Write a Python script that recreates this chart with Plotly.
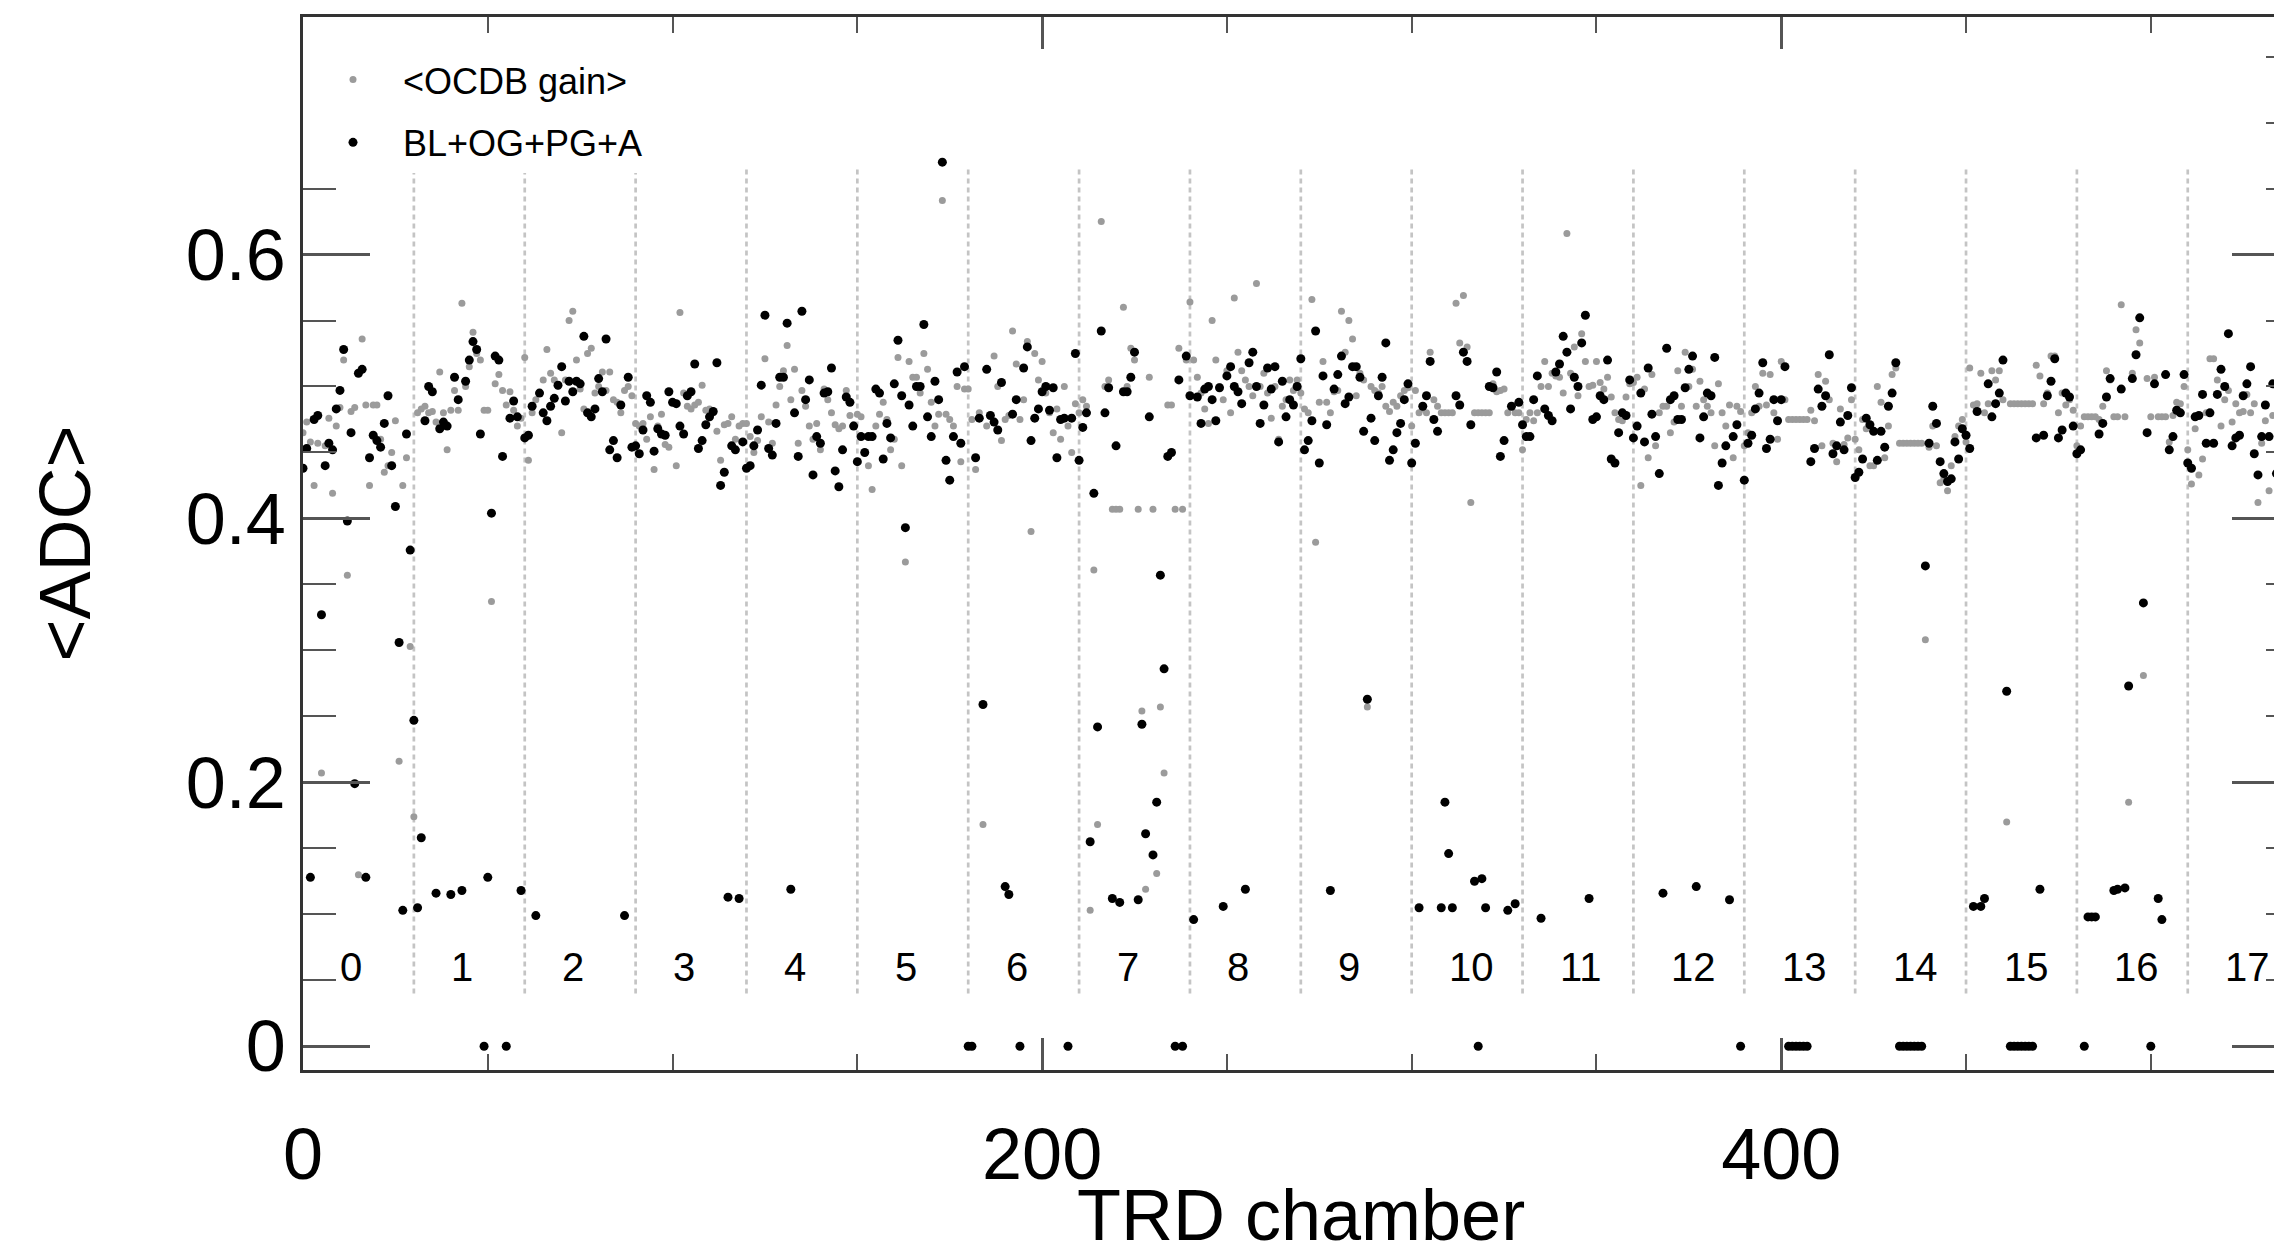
import numpy as np
import plotly.graph_objects as go

# <ADC> per TRD chamber (18 supermodules x 30 chambers)
bl_og_pg_a = [
    # SM 0
    0.438, 0.453, 0.128, 0.475, 0.478, 0.327, 0.440, 0.457, 0.452, 0.483,
    0.497, 0.528, 0.398, 0.465, 0.199, 0.510, 0.513, 0.128, 0.446, 0.463,
    0.459, 0.454, 0.472, 0.493, 0.440, 0.409, 0.306, 0.103, 0.464, 0.376,
    # SM 1
    0.247, 0.105, 0.158, 0.474, 0.500, 0.496, 0.116, 0.468, 0.473, 0.470,
    0.115, 0.507, 0.490, 0.118, 0.504, 0.520, 0.534, 0.528, 0.464, 0.0,
    0.128, 0.404, 0.523, 0.520, 0.447, 0.0, 0.476, 0.489, 0.477, 0.118,
    # SM 2
    0.461, 0.463, 0.485, 0.099, 0.495, 0.480, 0.474, 0.485, 0.491, 0.501,
    0.515, 0.489, 0.504, 0.496, 0.504, 0.502, 0.538, 0.480, 0.477, 0.483,
    0.506, 0.496, 0.536, 0.452, 0.459, 0.446, 0.486, 0.099, 0.507, 0.454,
    # SM 3
    0.455, 0.449, 0.467, 0.493, 0.488, 0.451, 0.468, 0.464, 0.463, 0.496,
    0.488, 0.487, 0.470, 0.464, 0.493, 0.496, 0.517, 0.453, 0.459, 0.471,
    0.477, 0.481, 0.518, 0.425, 0.435, 0.113, 0.455, 0.452, 0.112, 0.458,
    # SM 4
    0.438, 0.440, 0.455, 0.467, 0.501, 0.554, 0.453, 0.448, 0.472, 0.507,
    0.507, 0.548, 0.119, 0.480, 0.447, 0.557, 0.490, 0.505, 0.433, 0.462,
    0.457, 0.495, 0.496, 0.514, 0.436, 0.424, 0.452, 0.492, 0.488, 0.470,
    # SM 5
    0.443, 0.462, 0.450, 0.462, 0.462, 0.498, 0.495, 0.445, 0.472, 0.461,
    0.502, 0.535, 0.493, 0.393, 0.486, 0.470, 0.500, 0.500, 0.547, 0.477,
    0.462, 0.504, 0.490, 0.670, 0.444, 0.429, 0.462, 0.511, 0.457, 0.515,
    # SM 6
    0.0, 0.0, 0.446, 0.476, 0.259, 0.513, 0.478, 0.473, 0.467, 0.503,
    0.121, 0.115, 0.479, 0.490, 0.0, 0.514, 0.530, 0.459, 0.476, 0.483,
    0.496, 0.500, 0.482, 0.499, 0.446, 0.475, 0.476, 0.0, 0.476, 0.525,
    # SM 7
    0.444, 0.469, 0.480, 0.155, 0.419, 0.242, 0.542, 0.480, 0.499, 0.112,
    0.455, 0.109, 0.496, 0.496, 0.507, 0.526, 0.111, 0.244, 0.161, 0.477,
    0.145, 0.185, 0.357, 0.286, 0.447, 0.450, 0.0, 0.505, 0.0, 0.523,
    # SM 8
    0.493, 0.096, 0.492, 0.472, 0.498, 0.500, 0.490, 0.474, 0.499, 0.106,
    0.508, 0.515, 0.500, 0.496, 0.487, 0.119, 0.518, 0.526, 0.500, 0.472,
    0.486, 0.514, 0.498, 0.515, 0.458, 0.504, 0.477, 0.490, 0.486, 0.500,
    # SM 9
    0.521, 0.452, 0.459, 0.474, 0.542, 0.442, 0.508, 0.471, 0.118, 0.498,
    0.509, 0.523, 0.487, 0.492, 0.515, 0.515, 0.507, 0.466, 0.263, 0.476,
    0.459, 0.493, 0.507, 0.533, 0.444, 0.452, 0.465, 0.472, 0.490, 0.502,
    # SM 10
    0.442, 0.457, 0.105, 0.485, 0.493, 0.519, 0.475, 0.466, 0.105, 0.185,
    0.146, 0.105, 0.493, 0.486, 0.526, 0.519, 0.471, 0.125, 0.0, 0.127,
    0.105, 0.500, 0.499, 0.511, 0.447, 0.459, 0.103, 0.485, 0.108, 0.488,
    # SM 11
    0.471, 0.462, 0.462, 0.490, 0.508, 0.097, 0.483, 0.478, 0.474, 0.511,
    0.517, 0.538, 0.526, 0.483, 0.507, 0.500, 0.533, 0.554, 0.112, 0.475,
    0.477, 0.493, 0.490, 0.520, 0.445, 0.442, 0.465, 0.480, 0.478, 0.505,
    # SM 12
    0.461, 0.470, 0.495, 0.458, 0.514, 0.479, 0.462, 0.434, 0.116, 0.529,
    0.490, 0.493, 0.475, 0.475, 0.499, 0.513, 0.523, 0.121, 0.461, 0.477,
    0.495, 0.493, 0.522, 0.425, 0.442, 0.455, 0.111, 0.462, 0.471, 0.0,
    # SM 13
    0.429, 0.457, 0.463, 0.483, 0.495, 0.518, 0.453, 0.460, 0.490, 0.474,
    0.490, 0.515, 0.0, 0.0, 0.0, 0.0, 0.0, 0.0, 0.443, 0.453,
    0.498, 0.485, 0.493, 0.524, 0.449, 0.455, 0.473, 0.452, 0.478, 0.499,
    # SM 14
    0.431, 0.435, 0.445, 0.476, 0.471, 0.466, 0.444, 0.466, 0.454, 0.485,
    0.495, 0.518, 0.0, 0.0, 0.0, 0.0, 0.0, 0.0, 0.0, 0.364,
    0.457, 0.485, 0.472, 0.443, 0.434, 0.428, 0.430, 0.458, 0.445, 0.468,
    # SM 15
    0.463, 0.453, 0.106, 0.481, 0.106, 0.112, 0.502, 0.477, 0.487, 0.495,
    0.520, 0.269, 0.0, 0.0, 0.0, 0.0, 0.0, 0.0, 0.0, 0.461,
    0.119, 0.463, 0.493, 0.504, 0.521, 0.461, 0.467, 0.495, 0.492, 0.470,
    # SM 16
    0.449, 0.452, 0.0, 0.098, 0.098, 0.098, 0.464, 0.472, 0.492, 0.506,
    0.118, 0.119, 0.498, 0.120, 0.273, 0.506, 0.524, 0.552, 0.336, 0.465,
    0.0, 0.502, 0.112, 0.096, 0.509, 0.452, 0.462, 0.482, 0.480, 0.509,
    # SM 17
    0.442, 0.438, 0.477, 0.478, 0.494, 0.457, 0.480, 0.457, 0.494, 0.513,
    0.500, 0.540, 0.455, 0.461, 0.463, 0.493, 0.502, 0.515, 0.449, 0.433,
    0.462, 0.486, 0.462, 0.502, 0.434, 0.367, 0.465, 0.470, 0.480, 0.475,
]

ocdb_gain = [
    # SM 0
    0.465, 0.473, 0.458, 0.425, 0.457, 0.207, 0.455, 0.476, 0.419, 0.470,
    0.484, 0.520, 0.357, 0.481, 0.484, 0.130, 0.536, 0.486, 0.425, 0.486,
    0.486, 0.460, 0.435, 0.440, 0.450, 0.474, 0.216, 0.425, 0.446, 0.303,
    # SM 1
    0.174, 0.480, 0.483, 0.485, 0.480, 0.481, 0.473, 0.511, 0.480, 0.452,
    0.482, 0.497, 0.482, 0.563, 0.500, 0.515, 0.541, 0.525, 0.520, 0.482,
    0.482, 0.337, 0.502, 0.509, 0.497, 0.486, 0.496, 0.482, 0.470, 0.476,
    # SM 2
    0.522, 0.444, 0.480, 0.490, 0.495, 0.505, 0.528, 0.510, 0.505, 0.500,
    0.465, 0.505, 0.550, 0.557, 0.520, 0.498, 0.483, 0.525, 0.529, 0.495,
    0.500, 0.511, 0.497, 0.511, 0.490, 0.488, 0.480, 0.497, 0.500, 0.493,
    # SM 3
    0.472, 0.470, 0.472, 0.460, 0.477, 0.437, 0.470, 0.479, 0.456, 0.454,
    0.488, 0.440, 0.556, 0.495, 0.485, 0.483, 0.486, 0.488, 0.501, 0.482,
    0.483, 0.480, 0.466, 0.444, 0.471, 0.472, 0.477, 0.460, 0.470, 0.472,
    # SM 4
    0.472, 0.462, 0.450, 0.459, 0.477, 0.521, 0.473, 0.457, 0.486, 0.500,
    0.512, 0.531, 0.490, 0.513, 0.457, 0.497, 0.485, 0.470, 0.460, 0.472,
    0.452, 0.498, 0.490, 0.480, 0.471, 0.468, 0.470, 0.497, 0.478, 0.471,
    # SM 5
    0.479, 0.477, 0.462, 0.440, 0.422, 0.470, 0.479, 0.488, 0.475, 0.452,
    0.460, 0.522, 0.440, 0.367, 0.519, 0.507, 0.507, 0.495, 0.525, 0.513,
    0.488, 0.470, 0.479, 0.641, 0.479, 0.475, 0.470, 0.500, 0.443, 0.498,
    # SM 6
    0.498, 0.475, 0.437, 0.480, 0.168, 0.470, 0.478, 0.523, 0.500, 0.459,
    0.475, 0.478, 0.542, 0.517, 0.475, 0.490, 0.534, 0.390, 0.525, 0.505,
    0.519, 0.495, 0.480, 0.465, 0.483, 0.460, 0.500, 0.470, 0.450, 0.487,
    # SM 7
    0.480, 0.490, 0.485, 0.103, 0.361, 0.168, 0.625, 0.500, 0.505, 0.407,
    0.407, 0.407, 0.560, 0.500, 0.529, 0.520, 0.407, 0.254, 0.119, 0.507,
    0.407, 0.131, 0.257, 0.207, 0.486, 0.486, 0.407, 0.529, 0.407, 0.520,
    # SM 8
    0.564, 0.520, 0.507, 0.495, 0.483, 0.472, 0.550, 0.520, 0.500, 0.490,
    0.512, 0.480, 0.567, 0.526, 0.512, 0.505, 0.500, 0.493, 0.578, 0.500,
    0.510, 0.495, 0.476, 0.500, 0.460, 0.485, 0.490, 0.505, 0.497, 0.505,
    # SM 9
    0.495, 0.483, 0.480, 0.566, 0.382, 0.488, 0.519, 0.488, 0.480, 0.496,
    0.497, 0.557, 0.526, 0.550, 0.536, 0.493, 0.510, 0.505, 0.257, 0.500,
    0.497, 0.495, 0.500, 0.485, 0.481, 0.488, 0.485, 0.493, 0.497, 0.499,
    # SM 10
    0.470, 0.497, 0.480, 0.483, 0.480, 0.526, 0.490, 0.485, 0.480, 0.480,
    0.480, 0.480, 0.563, 0.533, 0.569, 0.530, 0.412, 0.480, 0.480, 0.480,
    0.480, 0.480, 0.502, 0.496, 0.497, 0.498, 0.480, 0.485, 0.480, 0.480,
    # SM 11
    0.452, 0.475, 0.480, 0.474, 0.480, 0.500, 0.519, 0.500, 0.510, 0.508,
    0.507, 0.495, 0.616, 0.510, 0.530, 0.493, 0.540, 0.519, 0.500, 0.501,
    0.519, 0.503, 0.498, 0.507, 0.492, 0.480, 0.475, 0.474, 0.492, 0.502,
    # SM 12
    0.503, 0.507, 0.425, 0.498, 0.446, 0.509, 0.455, 0.480, 0.485, 0.485,
    0.465, 0.473, 0.512, 0.485, 0.526, 0.500, 0.513, 0.485, 0.504, 0.490,
    0.485, 0.480, 0.455, 0.502, 0.480, 0.470, 0.486, 0.446, 0.485, 0.481,
    # SM 13
    0.455, 0.465, 0.480, 0.500, 0.485, 0.510, 0.486, 0.509, 0.480, 0.460,
    0.519, 0.490, 0.475, 0.475, 0.475, 0.475, 0.475, 0.475, 0.482, 0.474,
    0.509, 0.455, 0.504, 0.490, 0.457, 0.443, 0.483, 0.456, 0.461, 0.490,
    # SM 14
    0.460, 0.452, 0.475, 0.468, 0.440, 0.440, 0.500, 0.488, 0.446, 0.470,
    0.509, 0.514, 0.457, 0.457, 0.457, 0.457, 0.457, 0.457, 0.457, 0.308,
    0.454, 0.470, 0.455, 0.427, 0.430, 0.421, 0.440, 0.462, 0.470, 0.475,
    # SM 15
    0.458, 0.514, 0.486, 0.487, 0.510, 0.480, 0.487, 0.512, 0.505, 0.512,
    0.490, 0.170, 0.487, 0.487, 0.487, 0.487, 0.487, 0.487, 0.487, 0.516,
    0.508, 0.487, 0.495, 0.523, 0.523, 0.480, 0.495, 0.486, 0.490, 0.482,
    # SM 16
    0.455, 0.470, 0.477, 0.477, 0.477, 0.477, 0.475, 0.485, 0.512, 0.505,
    0.477, 0.477, 0.562, 0.477, 0.185, 0.510, 0.543, 0.533, 0.281, 0.506,
    0.477, 0.507, 0.477, 0.477, 0.477, 0.458, 0.478, 0.488, 0.487, 0.500,
    # SM 17
    0.452, 0.426, 0.468, 0.433, 0.445, 0.480, 0.521, 0.521, 0.505, 0.470,
    0.490, 0.497, 0.473, 0.487, 0.480, 0.481, 0.494, 0.480, 0.487, 0.412,
    0.457, 0.474, 0.421, 0.478, 0.478, 0.317, 0.470, 0.475, 0.478, 0.472,
]

sm_labels = [str(i) for i in range(18)]
chambers_per_sm = 30
n_chambers = 540

chamber = np.arange(len(bl_og_pg_a))
FONT = "Liberation Sans, Arial, Helvetica, sans-serif"
YRANGE = [-0.018, 0.780]

fig = go.Figure()

fig.add_trace(go.Scatter(
    x=chamber, y=ocdb_gain, mode="markers", name="&lt;OCDB gain&gt;",
    marker=dict(size=7, color="#9b9b9b"), legendgroup="ocdb",
))
fig.add_trace(go.Scatter(
    x=chamber, y=bl_og_pg_a, mode="markers", name="BL+OG+PG+A",
    marker=dict(size=9, color="black"), legendgroup="corr", yaxis="y2",
))

# supermodule borders (dotted) and numbers
shapes = []
annotations = []
for k, lab in enumerate(sm_labels):
    if k > 0:
        shapes.append(dict(
            type="line", xref="x", yref="y", layer="below",
            x0=k * chambers_per_sm, x1=k * chambers_per_sm, y0=0.04, y1=0.666,
            line=dict(color="#c4c4c4", width=2.7, dash="5px,4px"),
        ))
    annotations.append(dict(
        text=lab, x=k * chambers_per_sm + 9.6, y=0.060, xref="x", yref="y",
        xanchor="left", yanchor="middle", showarrow=False,
        font=dict(family=FONT, size=40, color="black"),
    ))

# x-axis title, centred on the full chamber range (the frame runs past the window edge)
annotations.append(dict(
    text="TRD chamber", x=n_chambers / 2, y=-0.1377, xref="x", yref="paper",
    xanchor="center", yanchor="middle", showarrow=False,
    font=dict(family=FONT, size=72, color="black"),
))

# page body has an 8px margin, so the figure is 16px smaller than the window
fig.update_layout(
    width=2274, height=1249,
    margin=dict(l=295, r=0, t=9, b=187),
    plot_bgcolor="white", paper_bgcolor="white",
    font=dict(family=FONT, color="black"),
    showlegend=True,
    legend=dict(
        x=0, y=0.969, xanchor="left", yanchor="top",
        bgcolor="white", borderwidth=0,
        font=dict(family=FONT, size=36, color="black"),
        itemwidth=90, tracegroupgap=13, traceorder="grouped",
    ),
    xaxis=dict(
        range=[0, 535.5], showgrid=False, zeroline=False, automargin=False,
        showline=True, linecolor="#333333", linewidth=2.5, mirror="ticks",
        ticks="inside", ticklen=32, tickwidth=2.5, tickcolor="#555555",
        tick0=0, dtick=200, ticklabelstandoff=20,
        minor=dict(ticks="inside", dtick=50, ticklen=16, tickwidth=2, tickcolor="#555555"),
        tickfont=dict(family=FONT, size=72, color="black"),
    ),
    yaxis=dict(
        range=YRANGE, showgrid=False, zeroline=False, automargin=False,
        showline=True, linecolor="#333333", linewidth=2.5,
        ticks="inside", ticklen=67, tickwidth=2.5, tickcolor="#555555",
        tick0=0, dtick=0.2,
        minor=dict(ticks="inside", dtick=0.05, ticklen=33, tickwidth=2, tickcolor="#555555"),
        tickfont=dict(family=FONT, size=72, color="black"),
        title=dict(text="&lt;ADC&gt;", font=dict(family=FONT, size=72, color="black"), standoff=72),
    ),
    yaxis2=dict(
        range=YRANGE, overlaying="y", side="right", showgrid=False, zeroline=False,
        automargin=False, showline=False, showticklabels=False,
        ticks="inside", ticklen=50, tickwidth=2.5, tickcolor="#555555",
        tick0=0, dtick=0.2,
        minor=dict(ticks="inside", dtick=0.05, ticklen=16, tickwidth=2, tickcolor="#555555"),
    ),
    shapes=shapes,
    annotations=annotations,
)

fig.write_html("out.html")
